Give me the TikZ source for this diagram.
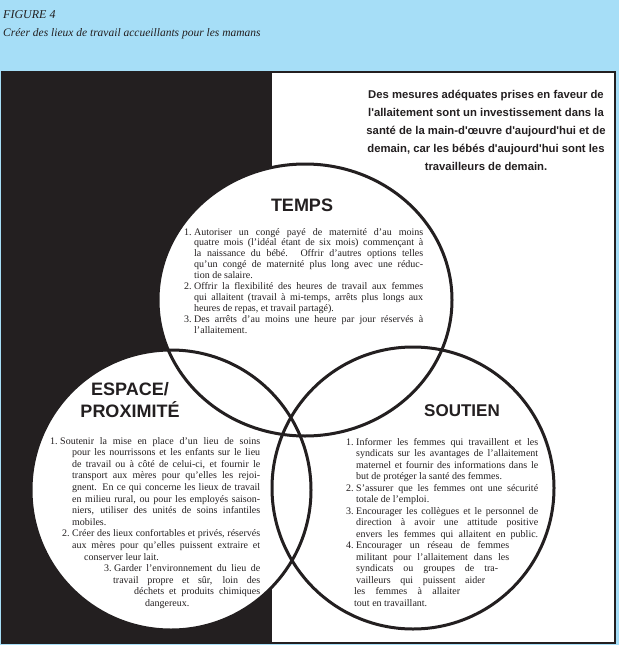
\documentclass[tikz,border=0pt]{standalone}
\usepackage{fontspec}
\setmainfont{Liberation Serif}
\newfontfamily\headsans{Liberation Sans}
\definecolor{hdrblue}{RGB}{166,222,247}
\definecolor{ink}{RGB}{35,31,32}
\newcommand\JL[3]{\hspace*{#1pt}\makebox[#2pt][s]{#3}}
\newcommand\RL[2]{\hspace*{#1pt}#2}
\newcommand\Lb[1]{\llap{#1\hspace{2.5pt}}}
\tikzset{
  vennfill/.style={fill=white},
  vennline/.style={draw=ink, line width=3pt},
  heading/.style={font=\headsans\bfseries\fontsize{18}{21}\selectfont, text=ink, align=center, inner sep=0pt},
  listtxt/.style={anchor=base west, inner sep=0pt, text=ink},
  captxt/.style={anchor=base west, inner sep=0pt, text=ink}
}
\begin{document}
\begin{tikzpicture}[x=1pt,y=-1pt]
\useasboundingbox (0,0) rectangle (619,645);
\fill[hdrblue] (0,0) rectangle (619,645);
\node[captxt, font=\itshape\fontsize{12}{14}\selectfont] (fig) at (3,18) {FIGURE 4};
\node[captxt, font=\itshape\fontsize{11.5}{14}\selectfont] (title) at (3,36) {Créer des lieux de travail accueillants pour les mamans};
% panel
\fill[white] (2,72) rectangle (615,643);
\fill[ink] (2,72) rectangle (272,643);
\draw[ink, line width=1.5pt] (2,72) rectangle (615,643);
% circles
\coordinate (temps) at (305,300);
\coordinate (espace) at (171,490);
\coordinate (soutien) at (413,488);
\fill[vennfill] (temps) ellipse [x radius=147, y radius=136];
\fill[vennfill] (espace) circle (140);
\fill[vennfill] (soutien) circle (141);
\draw[vennline] (temps) ellipse [x radius=147, y radius=136];
\draw[vennline] (espace) circle (140);
\draw[vennline] (soutien) circle (141);
% quote
\node[font=\headsans\bfseries\fontsize{11.3}{18}\selectfont, text=ink, align=center, inner sep=0pt, anchor=north] (quote) at (486,90) {Des mesures adéquates prises en faveur de\\ l'allaitement sont un investissement dans la\\ santé de la main-d'œuvre d'aujourd'hui et de\\ demain, car les bébés d'aujourd'hui sont les\\ travailleurs de demain.};
% headings
\node[heading] (h1) at (302,205) {TEMPS};
\node[heading, font=\headsans\bfseries\fontsize{18}{22}\selectfont] (h2) at (130,400) {ESPACE/\\PROXIMITÉ};
\node[heading, font=\headsans\bfseries\fontsize{17}{21}\selectfont] (h3) at (462,411) {SOUTIEN};
% TEMPS list
\node[listtxt] (l1) at (180,235) {\parbox[t]{260pt}{\fontsize{10}{10.9}\selectfont
\JL{14}{229}{\Lb{1.}Autoriser un congé payé de maternité d'au moins}\\
\JL{14}{229}{quatre mois (l'idéal étant de six mois) commençant à}\\
\JL{14}{229}{la naissance du bébé. Offrir d'autres options telles}\\
\JL{14}{229}{qu'un congé de maternité plus long avec une réduc-}\\
\RL{14}{tion de salaire.}\\
\JL{14}{229}{\Lb{2.}Offrir la flexibilité des heures de travail aux femmes}\\
\JL{14}{229}{qui allaitent (travail à mi-temps, arrêts plus longs aux}\\
\RL{14}{heures de repas, et travail partagé).}\\
\JL{14}{229}{\Lb{3.}Des arrêts d'au moins une heure par jour réservés à}\\
\RL{14}{l'allaitement.}}};
% ESPACE list
\node[listtxt] (l2) at (40,444) {\parbox[t]{260pt}{\fontsize{10}{11.6}\selectfont
\JL{20}{200}{\Lb{1.}Soutenir la mise en place d'un lieu de soins}\\
\JL{32}{188}{pour les nourrissons et les enfants sur le lieu}\\
\JL{32}{188}{de travail ou à côté de celui-ci, et fournir le}\\
\JL{32}{188}{transport aux mères pour qu'elles les rejoi-}\\
\JL{32}{188}{gnent. En ce qui concerne les lieux de travail}\\
\JL{32}{188}{en milieu rural, ou pour les employés saison-}\\
\JL{32}{188}{niers, utiliser des unités de soins infantiles}\\
\RL{32}{mobiles.}\\
\JL{32}{188}{\Lb{2.}Créer des lieux confortables et privés, réservés}\\
\JL{32}{188}{aux mères pour qu'elles puissent extraire et}\\
\RL{44}{conserver leur lait.}\\
\JL{74}{146}{\Lb{3.}Garder l'environnement du lieu de}\\
\JL{73}{147}{travail propre et sûr, loin des}\\
\JL{94}{126}{déchets et produits chimiques}\\
\RL{105}{dangereux.}}};
% SOUTIEN list
\node[listtxt] (l3) at (340,445) {\parbox[t]{260pt}{\fontsize{10}{11.5}\selectfont
\JL{16}{182}{\Lb{1.}Informer les femmes qui travaillent et les}\\
\JL{16}{182}{syndicats sur les avantages de l'allaitement}\\
\JL{16}{182}{maternel et fournir des informations dans le}\\
\RL{16}{but de protéger la santé des femmes.}\\
\JL{16}{182}{\Lb{2.}S'assurer que les femmes ont une sécurité}\\
\RL{16}{totale de l'emploi.}\\
\JL{16}{182}{\Lb{3.}Encourager les collègues et le personnel de}\\
\JL{16}{182}{direction à avoir une attitude positive}\\
\JL{16}{182}{envers les femmes qui allaitent en public.}\\
\JL{16}{153}{\Lb{4.}Encourager un réseau de femmes}\\
\JL{16}{153}{militant pour l'allaitement dans les}\\
\JL{16}{142}{syndicats ou groupes de tra-}\\
\JL{16}{129}{vailleurs qui puissent aider}\\
\JL{14}{106}{les femmes à allaiter}\\
\RL{14}{tout en travaillant.}}};
\end{tikzpicture}
\end{document}
